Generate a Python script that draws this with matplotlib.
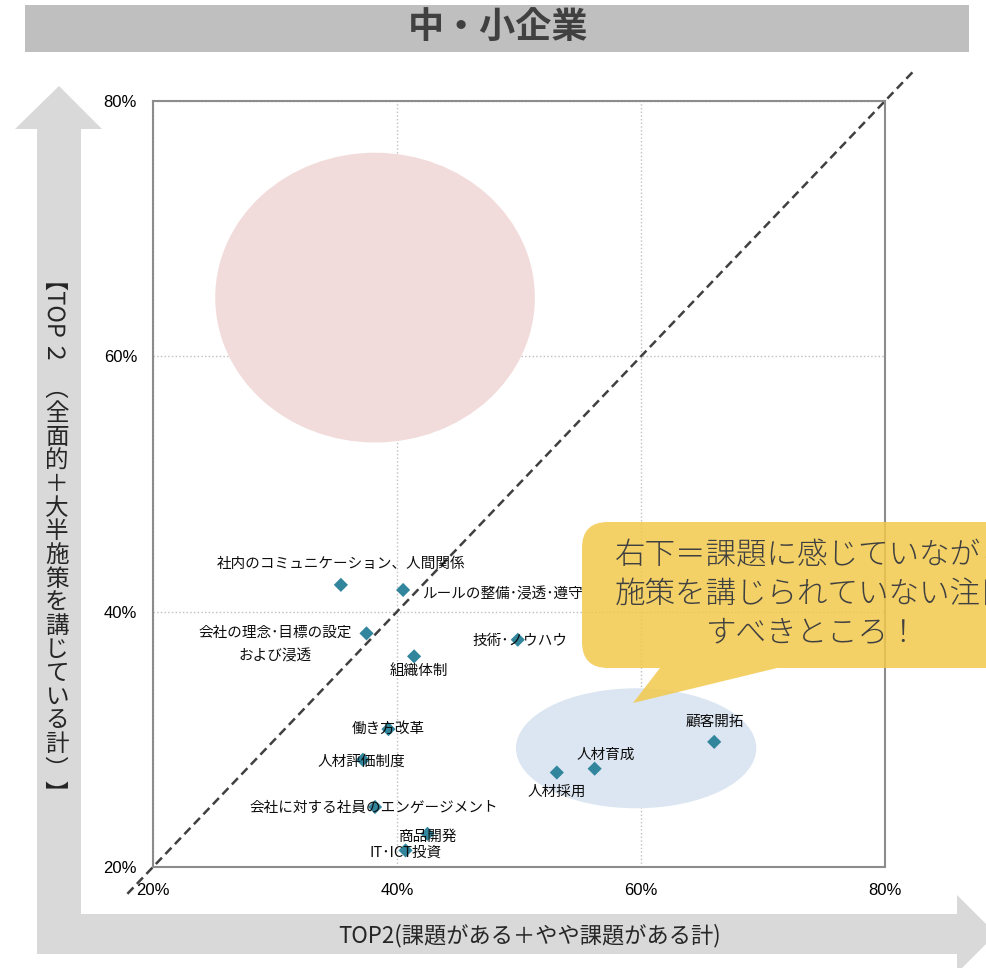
import matplotlib.pyplot as plt
from matplotlib.patches import Ellipse, Polygon, Rectangle, FancyBboxPatch, PathPatch
from matplotlib.textpath import TextPath
from matplotlib.font_manager import FontProperties
from matplotlib.transforms import Affine2D

plt.rcParams['font.family'] = ['Noto Sans CJK JP', 'DejaVu Sans']

# data (percent)
items = ['社内のコミュニケーション、人間関係', 'ルールの整備･浸透･遵守',
         '会社の理念･目標の設定\nおよび浸透', '技術･ノウハウ', '組織体制', '働き方改革',
         '人材評価制度', '会社に対する社員のエンゲージメント', '商品開発', 'IT･ICT投資',
         '人材採用', '人材育成', '顧客開拓']
issue = [35.4, 40.5, 37.5, 49.9, 41.4, 39.3, 37.2, 38.2, 42.5, 40.7, 53.1, 56.2, 66.0]
measure = [42.1, 41.7, 38.3, 37.8, 36.5, 30.8, 28.4, 24.7, 22.6, 21.3, 27.4, 27.7, 29.8]
ticks = [20, 40, 60, 80]
tick_labels = ['20%', '40%', '60%', '80%']
diag = [17.9, 82.3]

title = '中・小企業'
xlabel = 'TOP2(課題がある＋やや課題がある計)'
callout = ['右下＝課題に感じていながら', '施策を講じられていない注目', 'すべきところ！']

# label offsets in points (dx, dy, ha)
label_pos = {
    items[0]: (0, 15, 'center'),
    items[1]: (14, -3.5, 'left'),
    items[2]: (-65.5, -8, 'center'),
    items[3]: (1.5, -0.7, 'center'),
    items[4]: (3.6, -10.8, 'center'),
    items[5]: (0, 0, 'center'),
    items[6]: (-0.7, -1.4, 'center'),
    items[7]: (-0.7, -0.7, 'center'),
    items[8]: (0.7, -2.2, 'center'),
    items[9]: (0, -1.4, 'center'),
    items[10]: (0, -13.7, 'center'),
    items[11]: (8, 10, 'center'),
    items[12]: (0.7, 14.4, 'center'),
}

fig = plt.figure(figsize=(9.87, 9.68), dpi=100)

# background layer in pixel coords
bg = fig.add_axes([0, 0, 1, 1], zorder=0)
bg.set_xlim(0, 987)
bg.set_ylim(968, 0)
bg.axis('off')
grey = '#D9D9D9'
bg.add_patch(Rectangle((25, 5), 944, 47, color='#BFBFBF', lw=0))
bg.text(498, 28, title, ha='center', va='center', fontsize=26,
        fontweight='bold', color='#404040')
bg.add_patch(Rectangle((37, 128), 44, 826, color=grey, lw=0))
bg.add_patch(Polygon([(15, 129), (59, 86), (102, 129)], color=grey, lw=0))
bg.add_patch(Rectangle((37, 914), 922, 40, color=grey, lw=0))
bg.add_patch(Polygon([(957, 895), (996, 934), (957, 973)], color=grey, lw=0))
bg.text(530, 936, xlabel, ha='center', va='center', fontsize=16, color='#262626')

# vertical y label: latin / brackets turned sideways, kanji upright
fp = FontProperties(family='Noto Sans CJK JP')


def side_text(s, yc, xb=48, size=23.6):
    tp = TextPath((0, 0), s, size=size, prop=fp)
    ext = tp.get_extents()
    mid = (ext.x0 + ext.x1) / 2
    tr = Affine2D().translate(-mid, 0).rotate_deg(-90).scale(1, -1).translate(xb, yc)
    bg.add_patch(PathPatch(tr.transform_path(tp), color='#262626', lw=0))


side_text('【TOP', 310)
side_text('２', 353)
side_text('（', 395)
for i, ch in enumerate('全面的＋大半施策を講じている計'):
    bg.text(57, 414 + i * 23.6, ch, ha='center', va='center', fontsize=17, color='#262626')
side_text('）', 760)
side_text('】', 785)

# main plot
ax = fig.add_axes([153 / 987, 101 / 968, 732 / 987, 766 / 968], zorder=1)
ax.set_xlim(20, 80)
ax.set_ylim(20, 80)
ax.set_xticks(ticks)
ax.set_yticks(ticks)
ax.set_xticklabels(tick_labels, fontfamily='Liberation Sans', fontsize=12)
ax.set_yticklabels(tick_labels, fontfamily='Liberation Sans', fontsize=12)
ax.tick_params(length=0, pad=11.5)
ax.grid(True, ls=':', color='#BFBFBF', lw=1)
ax.set_axisbelow(True)
for s in ax.spines.values():
    s.set_color('#8C8C8C')
    s.set_linewidth(1.5)

ax.add_patch(Ellipse((38.2, 64.6), 26.2, 22.7, color='#F2DCDB', lw=0, zorder=1))
ax.add_patch(Ellipse((59.6, 29.3), 19.7, 9.4, color='#DCE6F2', lw=0, zorder=1))

ax.plot(diag, diag, ls=(0, (3.5, 2)), color='#404040', lw=1.8, clip_on=False, zorder=2)
ax.scatter(issue, measure, marker='D', s=52, color='#31859C', edgecolor='none', zorder=3)

for name, x, y in zip(items, issue, measure):
    dx, dy, ha = label_pos[name]
    ax.annotate(name, (x, y), xytext=(dx, dy), textcoords='offset points',
                ha=ha, va='center', fontsize=10.5, color='#0D0D0D',
                linespacing=1.9, zorder=4)

# callout on top
top = fig.add_axes([0, 0, 1, 1], zorder=3)
top.set_xlim(0, 987)
top.set_ylim(968, 0)
top.axis('off')
yellow = '#F2C94C'
top.add_patch(FancyBboxPatch((582, 522), 480, 146, boxstyle='round,pad=0,rounding_size=26',
                             facecolor=yellow, edgecolor='none', alpha=0.85))
top.add_patch(Polygon([(660, 668), (777, 668), (633, 703)], facecolor=yellow,
                      edgecolor='none', alpha=0.85))
for j, line in enumerate(callout):
    top.text(813, 555 + j * 39, line, ha='center', va='center', fontsize=22,
             fontweight='light', color='#404040')

fig.savefig('out.png', dpi=100)
